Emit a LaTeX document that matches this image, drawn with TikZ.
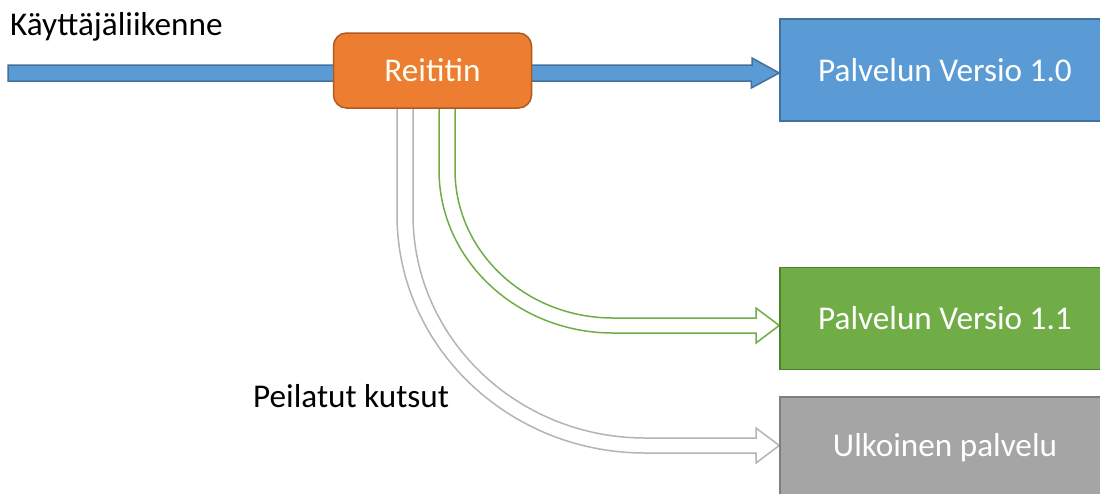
\documentclass[tikz,border=0pt]{standalone}
\usepackage{fontspec}
\setmainfont{Carlito}
\usetikzlibrary{calc,backgrounds}
\definecolor{svcblue}{HTML}{5B9BD5}
\definecolor{svcblueline}{HTML}{41719C}
\definecolor{routerorange}{HTML}{ED7D31}
\definecolor{routerline}{HTML}{AE5A21}
\definecolor{svcgreen}{HTML}{70AD47}
\definecolor{svcgreenline}{HTML}{507E32}
\definecolor{svcgray}{HTML}{A5A5A5}
\definecolor{svcgrayline}{HTML}{7F7F7F}
\definecolor{mirrorline}{HTML}{B4B4B4}
\tikzset{
  bigtext/.style={font=\fontsize{33.2}{40}\selectfont},
  svcbox/.style={rectangle, draw=#1line, fill=#1, line width=1.5pt,
    minimum width=330pt, minimum height=102pt, inner sep=0pt,
    text=white, bigtext},
  routerbox/.style={rectangle, rounded corners=13pt, draw=routerline,
    fill=routerorange, line width=1.5pt, minimum width=198pt,
    minimum height=75pt, inner sep=0pt, text=white!95!yellow, bigtext},
  label/.style={inner sep=0pt, anchor=base west, bigtext},
  blockarrow/.style={line width=1.5pt, line join=miter},
}
\begin{document}
\begin{tikzpicture}[x=1pt,y=-1pt]
\useasboundingbox (0,0) rectangle (1100,493);
\clip (0,0) rectangle (1100,493);

% nodes
\node[routerbox] (router) at (432.5,70.5) {Reititin};
\node[svcbox=svcblue]  (v10) at (945,70)    {Palvelun Versio 1.0};
\node[svcbox=svcgreen] (v11) at (945,318.5) {Palvelun Versio 1.1};
\node[svcbox=svcgray]  (ext) at (945,448)   {Ulkoinen palvelu};
\node[label] (traffic) at (10,35)  {Käyttäjäliikenne};
\node[label] (mirror)  at (253,407) {Peilatut kutsut};

% connector ends
\coordinate (intail) at (8,73);
\coordinate (bluetip)  at (v10.west |- intail);
\coordinate (greentip) at ($(v11.west)+(0,7)$);
\coordinate (graytip)  at ($(ext.west)+(0,-2.5)$);

\begin{pgfonlayer}{background}
  \fill[white] (0,0) rectangle (1100,493);
  % incoming user traffic, through the router to version 1.0
  \filldraw[blockarrow, fill=svcblue, draw=svcblueline]
    ($(intail)+(0,-8)$) -- ++(744,0) -- ++(0,-7) -- (bluetip)
    -- ++(-28,15) -- ++(0,-7) -- ($(intail)+(0,8)$) -- cycle;
  % routed traffic to version 1.1
  \filldraw[blockarrow, fill=white, draw=svcgreen]
    (439,100) -- (439,170) .. controls (439,260) and (517,333) .. (613,333)
    -- (756,333) -- (756,343) -- (greentip) -- (756,308) -- (756,318)
    -- (613,318) .. controls (526,318) and (455,252) .. (455,170) -- (455,100);
  % mirrored calls to the external service
  \filldraw[blockarrow, fill=white, draw=mirrorline]
    (397,100) -- (397,215) .. controls (397,346) and (508,453) .. (645,453)
    -- (756,453) -- (756,463) -- (graytip) -- (756,428) -- (756,438)
    -- (645,438) .. controls (517,438) and (413,338) .. (413,215) -- (413,100);
\end{pgfonlayer}
\end{tikzpicture}
\end{document}
